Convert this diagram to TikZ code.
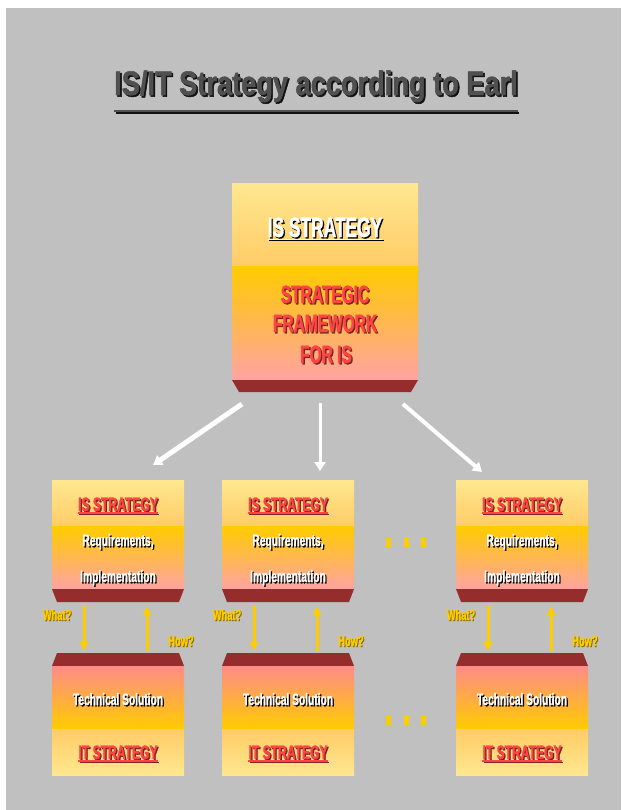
\documentclass[tikz,border=0pt]{standalone}
\usepackage{fontspec}
\usetikzlibrary{arrows.meta}
\setmainfont{Liberation Sans}
\newfontfamily\nar[FakeStretch=0.62,FakeBold=1.2]{Liberation Sans}
\newfontfamily\tnar[FakeStretch=0.8,FakeBold=1.5]{Liberation Sans}
\definecolor{bg}{HTML}{C0C0C0}
\definecolor{band}{HTML}{962D2D}
\definecolor{gold}{HTML}{FFCC00}
\definecolor{goldsh}{HTML}{8C6E00}
\definecolor{lightY}{HTML}{FFE790}
\definecolor{lightO}{HTML}{FFCC66}
\definecolor{pinkA}{HTML}{FFA3A3}
\definecolor{pinkB}{HTML}{FF8C88}
\definecolor{redtx}{HTML}{FF4444}
\definecolor{redsh}{HTML}{7A2525}
\definecolor{titlec}{HTML}{505050}
\definecolor{titlesh}{HTML}{111111}
\newcommand\shd[4][1.3pt]{\rlap{\kern#1\raisebox{-#1}{\color{#3}#4}}{\color{#2}#4}}
\newcommand\uln[3]{\setbox0\hbox{#3}\rlap{\raisebox{#1}{\rule{\wd0}{#2}}}\box0}
\newcommand\fs[1]{\fontsize{#1}{#1}\selectfont}
\tikzset{
  sec1/.style={rectangle, inner sep=0pt, top color=lightY, bottom color=lightO, draw=none},
  sec2/.style={rectangle, inner sep=0pt, top color=gold, bottom color=pinkA, draw=none},
  sec3/.style={rectangle, inner sep=0pt, top color=pinkB, bottom color=gold, draw=none},
  sec4/.style={rectangle, inner sep=0pt, top color=lightO, bottom color=lightY, draw=none},
  txt/.style={anchor=base, inner sep=0pt, font=\nar\bfseries},
  warrow/.style={draw=white, -{Triangle[width=11pt,length=9pt]}},
  garrow/.style={draw=gold, line width=3pt, -{Triangle[width=8pt,length=9pt]}},
  dotbox/.style={fill=gold, minimum width=5pt, minimum height=9pt, inner sep=0pt, draw=none}
}
\begin{document}
\begin{tikzpicture}[x=1pt,y=-1pt]
\useasboundingbox (0,0) rectangle (621,810);
\fill[white] (0,0) rectangle (621,810);
\fill[bg] (6,8) rectangle (621,810);
% title
\node[anchor=base, inner sep=0pt, font=\tnar\bfseries\fs{34}] (title) at (316,95)
  {\shd[1.6pt]{titlec}{titlesh}{\uln{-17pt}{2pt}{IS/IT Strategy according to Earl}}};
% top box
\node[sec1, minimum width=186pt, minimum height=83pt, anchor=north west] (topA) at (232,183) {};
\node[sec2, minimum width=186pt, minimum height=114pt, anchor=north west] (topB) at (232,266) {};
\fill[band] (232,380) -- (418,380) -- (411,392) -- (239,392) -- cycle;
\node[txt, font=\nar\bfseries\fs{28}] (topT) at (325,237) {\shd{white}{black}{\uln{-3pt}{1.5pt}{IS STRATEGY}}};
\node[txt, font=\nar\bfseries\fs{25}] (topL1) at (325,303) {\shd{redtx}{redsh}{STRATEGIC}};
\node[txt, font=\nar\bfseries\fs{25}] (topL2) at (325,332) {\shd{redtx}{redsh}{FRAMEWORK}};
\node[txt, font=\nar\bfseries\fs{25}] (topL3) at (326,363) {\shd{redtx}{redsh}{FOR IS}};
% white arrows
\coordinate (w1s) at (242,404); \coordinate (w1e) at (153,465);
\coordinate (w2s) at (320,403); \coordinate (w2e) at (320,471);
\coordinate (w3s) at (403,404); \coordinate (w3e) at (482,472);
\draw[warrow, line width=5pt] (w1s) -- (w1e);
\draw[warrow, line width=3pt] (w2s) -- (w2e);
\draw[warrow, line width=4pt] (w3s) -- (w3e);
% groups
\foreach \x/\n in {52/1,222/2,456/3}{
  \node[sec1, minimum width=132pt, minimum height=46pt, anchor=north west] (isa\n) at (\x,480) {};
  \node[sec2, minimum width=132pt, minimum height=63pt, anchor=north west] (isb\n) at (\x,526) {};
  \fill[band] (\x,589) -- ({\x+132},589) -- ({\x+127},602) -- ({\x+5},602) -- cycle;
  \fill[band] ({\x+5},653) -- ({\x+127},653) -- ({\x+132},666) -- (\x,666) -- cycle;
  \node[sec3, minimum width=132pt, minimum height=63pt, anchor=north west] (itb\n) at (\x,666) {};
  \node[sec4, minimum width=132pt, minimum height=46pt, anchor=north west] (ita\n) at (\x,729) {};
  \node[txt, font=\nar\bfseries\fs{19.5}] (ist\n) at ({\x+66},511) {\shd{redtx}{redsh}{\uln{-2.5pt}{1.3pt}{IS STRATEGY}}};
  \node[txt, font=\nar\bfseries\fs{16.5}] (req\n) at ({\x+66},546) {\shd{white}{black}{Requirements,}};
  \node[txt, font=\nar\bfseries\fs{16.5}] (imp\n) at ({\x+66},582) {\shd{white}{black}{Implementation}};
  \node[txt, font=\nar\bfseries\fs{16.5}] (tec\n) at ({\x+66},705) {\shd{white}{black}{Technical Solution}};
  \node[txt, font=\nar\bfseries\fs{19.5}] (itt\n) at ({\x+66},759) {\shd{redtx}{redsh}{\uln{-2.5pt}{1.3pt}{IT STRATEGY}}};
  \node[txt, font=\nar\bfseries\fs{15}] (what\n) at ({\x+5},620) {\shd[1pt]{gold}{goldsh}{What?}};
  \node[txt, font=\nar\bfseries\fs{15}] (how\n) at ({\x+129},646) {\shd[1pt]{gold}{goldsh}{How?}};
  \coordinate (ds\n) at ({\x+32},606); \coordinate (de\n) at ({\x+32},651);
  \coordinate (us\n) at ({\x+95},651); \coordinate (ue\n) at ({\x+95},606);
  \draw[garrow] (ds\n) -- (de\n);
  \draw[garrow] (us\n) -- (ue\n);
}
% dots
\foreach \dx [count=\i] in {388,406,423}{
  \node[dotbox] (dotu\i) at (\dx,542) {};
  \node[dotbox] (dotl\i) at (\dx,720) {};
}
\end{tikzpicture}
\end{document}
